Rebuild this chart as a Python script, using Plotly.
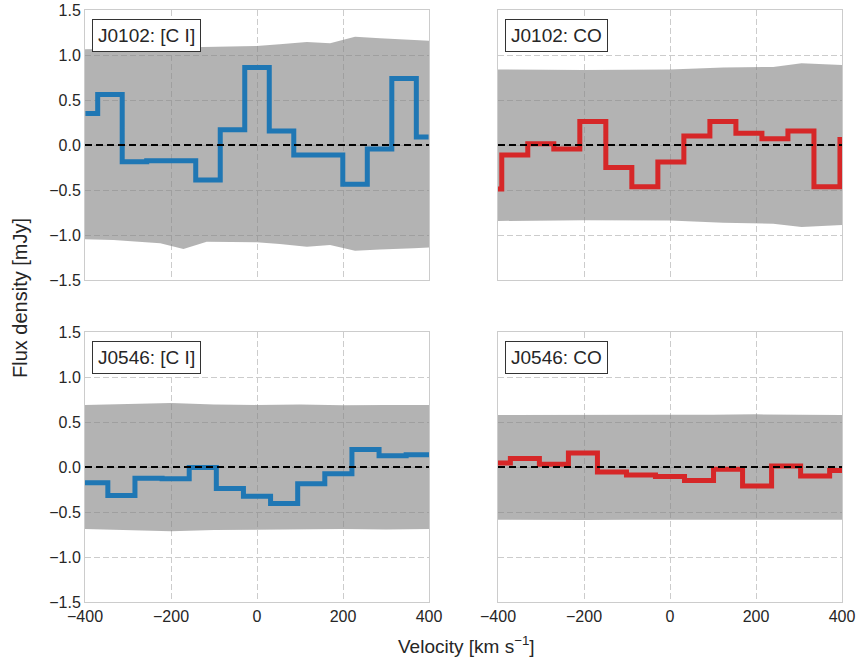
import plotly.graph_objects as go

# ---- spectra: channel velocities [km/s] and flux densities [mJy] ----
v_j0102_ci = [-399, -342, -285, -228, -171, -114, -57, 0, 57, 114, 171, 228, 285, 342, 399]
f_j0102_ci = [0.35, 0.56, -0.185, -0.175, -0.175, -0.39, 0.17, 0.86, 0.155, -0.11, -0.11,
              -0.435, -0.045, 0.74, 0.09]

v_j0102_co = [-421.5, -361, -300.5, -240, -179.5, -119, -58.5, 2, 62.5, 123, 183.5, 244,
              304.5, 365, 425.5]
f_j0102_co = [-0.49, -0.11, 0.015, -0.045, 0.26, -0.25, -0.465, -0.19, 0.10, 0.26, 0.13,
              0.07, 0.155, -0.465, 0.06]

v_j0546_ci = [-441.5, -378.4, -315.4, -252.3, -189.2, -126.1, -63.1, 0, 63.1, 126.1, 189.2,
              252.3, 315.4, 378.4, 441.5]
f_j0546_ci = [-0.16, -0.175, -0.317, -0.125, -0.13, -0.005, -0.24, -0.325, -0.405, -0.185,
              -0.075, 0.195, 0.125, 0.135, 0.13]

v_j0546_co = [-405, -337.5, -270, -202.5, -135, -67.5, 0, 67.5, 135, 202.5, 270, 337.5, 405]
f_j0546_co = [0.045, 0.095, 0.03, 0.155, -0.055, -0.09, -0.105, -0.15, -0.025, -0.21, 0.01,
              -0.1, -0.04]

# ---- noise envelopes (upper / lower) ----
band_v_j0102_ci = [-400, -334, -257, -225, -171, -117, -1, 53, 116, 170, 228, 286, 364, 400]
band_hi_j0102_ci = [1.065, 1.07, 1.08, 1.085, 1.09, 1.092, 1.10, 1.12, 1.144, 1.13, 1.203,
                    1.185, 1.165, 1.159]
band_lo_j0102_ci = [-1.048, -1.056, -1.08, -1.093, -1.156, -1.074, -1.08, -1.10, -1.13,
                    -1.11, -1.174, -1.16, -1.148, -1.138]

band_v_j0102_co = [-400, -202, 0, 124, 240, 306, 400]
band_hi_j0102_co = [0.84, 0.833, 0.84, 0.86, 0.867, 0.907, 0.89]
band_lo_j0102_co = [-0.844, -0.837, -0.84, -0.863, -0.874, -0.91, -0.89]

band_v_j0546_ci = [-400, -200, -100, 0, 100, 200, 300, 400]
band_hi_j0546_ci = [0.69, 0.71, 0.695, 0.69, 0.695, 0.685, 0.69, 0.69]
band_lo_j0546_ci = [-0.69, -0.715, -0.70, -0.70, -0.695, -0.69, -0.695, -0.69]

band_v_j0546_co = [-400, -200, -100, 0, 100, 200, 300, 400]
band_hi_j0546_co = [0.578, 0.575, 0.578, 0.58, 0.58, 0.585, 0.58, 0.578]
band_lo_j0546_co = [-0.586, -0.59, -0.585, -0.58, -0.585, -0.586, -0.586, -0.586]

labels = ["J0102: [C I]", "J0102: CO", "J0546: [C I]", "J0546: CO"]

x_ticks = [-400, -200, 0, 200, 400]
x_ticktext = ["\u2212400", "\u2212200", "0", "200", "400"]
y_ticks = [-1.5, -1.0, -0.5, 0.0, 0.5, 1.0, 1.5]
y_ticktext = ["\u22121.5", "\u22121.0", "\u22120.5", "0.0", "0.5", "1.0", "1.5"]

BLUE = "#1f77b4"
RED = "#d62728"
FONT = "Liberation Sans"

panels = [
    (v_j0102_ci, f_j0102_ci, band_v_j0102_ci, band_hi_j0102_ci, band_lo_j0102_ci, BLUE),
    (v_j0102_co, f_j0102_co, band_v_j0102_co, band_hi_j0102_co, band_lo_j0102_co, RED),
    (v_j0546_ci, f_j0546_ci, band_v_j0546_ci, band_hi_j0546_ci, band_lo_j0546_ci, BLUE),
    (v_j0546_co, f_j0546_co, band_v_j0546_co, band_hi_j0546_co, band_lo_j0546_co, RED),
]

W, H = 859, 660
x_domains = [[85 / W, 429 / W], [498 / W, 842 / W]]
y_domains = [[1 - 280 / H, 1 - 10 / H], [1 - 602 / H, 1 - 332 / H]]

fig = go.Figure()

for i, (v, f, bv, bhi, blo, col) in enumerate(panels):
    n = i + 1
    xa = "x" if n == 1 else f"x{n}"
    ya = "y" if n == 1 else f"y{n}"
    # noise envelope
    fig.add_trace(go.Scatter(
        x=list(bv) + list(bv)[::-1], y=list(bhi) + list(blo)[::-1],
        fill="toself", fillcolor="rgba(128,128,128,0.6)", line=dict(width=0),
        mode="lines", hoverinfo="skip", showlegend=False, xaxis=xa, yaxis=ya))
    # spectrum
    fig.add_trace(go.Scatter(
        x=v, y=f, mode="lines", line=dict(color=col, width=5, shape="hvh"),
        showlegend=False, xaxis=xa, yaxis=ya))
    # zero level
    fig.add_trace(go.Scatter(
        x=[-400, 400], y=[0, 0], mode="lines",
        line=dict(color="black", width=2, dash="7px,4px"),
        showlegend=False, xaxis=xa, yaxis=ya))

    row, colidx = divmod(i, 2)
    common_x = dict(
        domain=x_domains[colidx], anchor=ya, range=[-400, 400], tickvals=x_ticks,
        ticktext=x_ticktext, automargin=False,
        showgrid=True, gridcolor="#cccccc", gridwidth=1, griddash="6px,3px",
        showline=True, linecolor="#cccccc", linewidth=1, mirror=True,
        zeroline=False, ticks="", showticklabels=(row == 1),
        tickfont=dict(family=FONT, size=16, color="#262626"))
    common_y = dict(
        domain=y_domains[row], anchor=xa, range=[-1.5, 1.5], tickvals=y_ticks,
        ticktext=y_ticktext, automargin=False,
        showgrid=True, gridcolor="#cccccc", gridwidth=1, griddash="6px,3px",
        showline=True, linecolor="#cccccc", linewidth=1, mirror=True,
        zeroline=False, ticks="", showticklabels=(colidx == 0),
        tickfont=dict(family=FONT, size=16, color="#262626"))
    fig.update_layout({("xaxis" if n == 1 else f"xaxis{n}"): common_x,
                       ("yaxis" if n == 1 else f"yaxis{n}"): common_y})

    fig.add_annotation(
        text=labels[i], xref=f"{xa} domain", yref=f"{ya} domain",
        x=0.02, y=0.965, xanchor="left", yanchor="top", showarrow=False,
        font=dict(family=FONT, size=19, color="#262626"),
        bgcolor="white", bordercolor="#333333", borderwidth=1, borderpad=5)

fig.add_annotation(
    text="Flux density [mJy]", xref="paper", yref="paper", x=20 / W, y=1 - 298 / H,
    textangle=-90, showarrow=False, xanchor="center", yanchor="middle",
    font=dict(family=FONT, size=20, color="#262626"))
fig.add_annotation(
    text="Velocity [km s<sup>\u22121</sup>]", xref="paper", yref="paper",
    x=466 / W, y=1 - 645 / H, showarrow=False, xanchor="center", yanchor="middle",
    font=dict(family=FONT, size=19, color="#262626"))

fig.update_layout(
    width=W, height=H, margin=dict(l=0, r=0, t=0, b=0, autoexpand=False),
    paper_bgcolor="white", plot_bgcolor="white", template="none",
    font=dict(family=FONT, color="#262626"))

fig.write_html("out.html")
